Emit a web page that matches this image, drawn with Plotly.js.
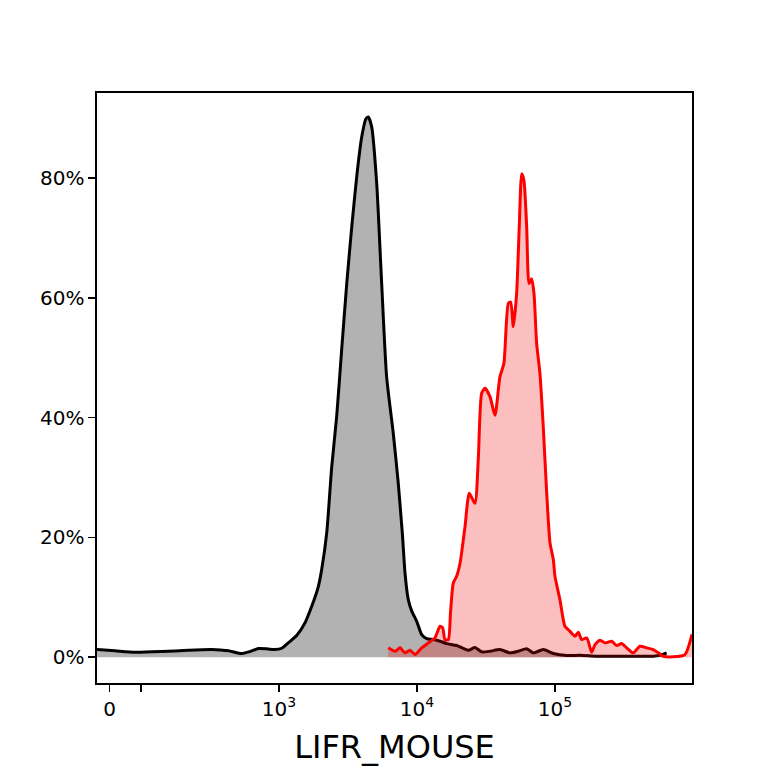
<!DOCTYPE html>
<html>
<head>
<meta charset="utf-8">
<script src="https://cdn.plot.ly/plotly-3.0.1.min.js"></script>
<style>
  html, body { margin: 0; padding: 0; background: #fff; }
  #plot { width: 768px; height: 768px; }
</style>
</head>
<body>
<div id="plot"></div>
<script>
// x values are in display decades of the biexponential axis (3 = 10^3, 4 = 10^4 ...)
// y values are % of max count
var control_x = [1.681, 1.812, 1.957, 2.150, 2.343, 2.512, 2.633, 2.730, 2.790, 2.850,
                 2.911, 2.971, 3.020, 3.067, 3.128, 3.188, 3.237, 3.285, 3.309, 3.346,
                 3.382, 3.418, 3.454, 3.491, 3.527, 3.563, 3.599, 3.630, 3.647, 3.672,
                 3.708, 3.744, 3.780, 3.828, 3.864, 3.895, 3.913, 3.937, 3.962, 3.998,
                 4.034, 4.070, 4.118, 4.167, 4.215, 4.288, 4.372, 4.420, 4.469, 4.529,
                 4.601, 4.674, 4.734, 4.795, 4.843, 4.915, 4.988, 5.085, 5.181, 5.302,
                 5.422, 5.567, 5.712, 5.773, 5.809];
var control_y = [1.28, 1.07, 0.83, 0.95, 1.17, 1.28, 1.07, 0.62, 0.95, 1.45,
                 1.40, 1.28, 1.50, 2.40, 3.62, 5.73, 8.50, 11.8, 14.6, 20.8,
                 31.8, 40.2, 51.3, 62.4, 71.8, 80.2, 86.8, 89.9, 90.2, 88.5,
                 79.1, 62.4, 46.8, 37.4, 29.1, 20.3, 14.1, 9.6, 7.7, 6.0,
                 3.78, 3.12, 2.95, 2.67, 2.28, 1.95, 1.17, 1.62, 0.90, 1.00,
                 1.28, 0.73, 1.00, 1.40, 0.73, 1.28, 0.62, 0.28, 0.33, 0.17,
                 0.17, 0.17, 0.17, 0.40, 0.73];

var lifr_x = [3.792, 3.841, 3.877, 3.913, 3.949, 3.986, 4.034, 4.082, 4.130, 4.167,
              4.186, 4.203, 4.227, 4.243, 4.263, 4.287, 4.312, 4.348, 4.379, 4.420,
              4.444, 4.469, 4.493, 4.529, 4.565, 4.601, 4.630, 4.662, 4.679, 4.698,
              4.722, 4.741, 4.759, 4.775, 4.795, 4.812, 4.831, 4.848, 4.867, 4.891,
              4.915, 4.940, 4.964, 4.988, 5.000, 5.036, 5.072, 5.109, 5.145, 5.169,
              5.193, 5.230, 5.266, 5.290, 5.326, 5.362, 5.411, 5.447, 5.483, 5.520,
              5.567, 5.616, 5.664, 5.712, 5.749, 5.785, 5.857, 5.942, 5.993];
var lifr_y = [1.57, 1.00, 1.57, 0.73, 1.17, 0.45, 1.57, 2.40, 3.23, 5.17,
              4.90, 2.95, 2.95, 7.5, 12.4, 13.5, 15.7, 21.8, 27.4, 25.7,
              33.0, 44.1, 44.9, 43.5, 40.4, 46.8, 49.1, 59.1, 59.3, 55.2,
              60.7, 71.8, 80.7, 79.6, 71.8, 62.4, 63.2, 60.7, 52.4, 47.4,
              38.5, 27.4, 19.1, 16.3, 13.5, 9.6, 5.17, 4.33, 3.50, 4.17,
              2.95, 3.23, 0.83, 2.12, 2.83, 2.40, 2.67, 1.95, 2.28, 1.57,
              0.73, 1.83, 1.57, 1.28, 0.73, 0.17, 0.07, 0.45, 3.8];

var x_tickvals = [1.772, 2, 3, 4, 5];
var x_ticktext = ['0', '', '10<sup>3</sup>', '10<sup>4</sup>', '10<sup>5</sup>'];
var y_tickvals = [0, 20, 40, 60, 80];
var y_ticktext = ['0%', '20%', '40%', '60%', '80%'];

var trace_control = {
  x: control_x,
  y: control_y,
  type: 'scatter',
  mode: 'lines',
  fill: 'tozeroy',
  fillcolor: 'rgba(0,0,0,0.3)',
  line: {color: '#000000', width: 3, shape: 'spline', smoothing: 0.6},
  hoverinfo: 'skip'
};

var trace_lifr = {
  x: lifr_x,
  y: lifr_y,
  type: 'scatter',
  mode: 'lines',
  fill: 'tozeroy',
  fillcolor: 'rgba(240,0,0,0.25)',
  line: {color: '#ff0000', width: 3, shape: 'spline', smoothing: 0.6},
  hoverinfo: 'skip'
};

var layout = {
  width: 768,
  height: 768,
  margin: {l: 97, r: 76, t: 92.5, b: 84.5},
  paper_bgcolor: '#ffffff',
  plot_bgcolor: '#ffffff',
  showlegend: false,
  font: {family: 'DejaVu Sans, sans-serif', size: 20, color: '#000000'},
  xaxis: {
    range: [1.681, 5.993],
    tickmode: 'array',
    tickvals: x_tickvals,
    ticktext: x_ticktext,
    ticks: 'outside',
    ticklen: 7,
    tickwidth: 1.6,
    tickcolor: '#000000',
    showgrid: false,
    zeroline: false,
    showline: true,
    mirror: true,
    linecolor: '#000000',
    linewidth: 1.6,
    tickfont: {size: 20},
    title: {text: 'LIFR_MOUSE', font: {size: 32}, standoff: 16}
  },
  yaxis: {
    range: [-4.3, 94.2],
    tickmode: 'array',
    tickvals: y_tickvals,
    ticktext: y_ticktext,
    ticks: 'outside',
    ticklen: 7,
    tickwidth: 1.6,
    tickcolor: '#000000',
    showgrid: false,
    zeroline: false,
    showline: true,
    mirror: true,
    linecolor: '#000000',
    linewidth: 1.6,
    tickfont: {size: 20}
  }
};

Plotly.newPlot('plot', [trace_control, trace_lifr], layout, {staticPlot: true});
</script>
</body>
</html>
